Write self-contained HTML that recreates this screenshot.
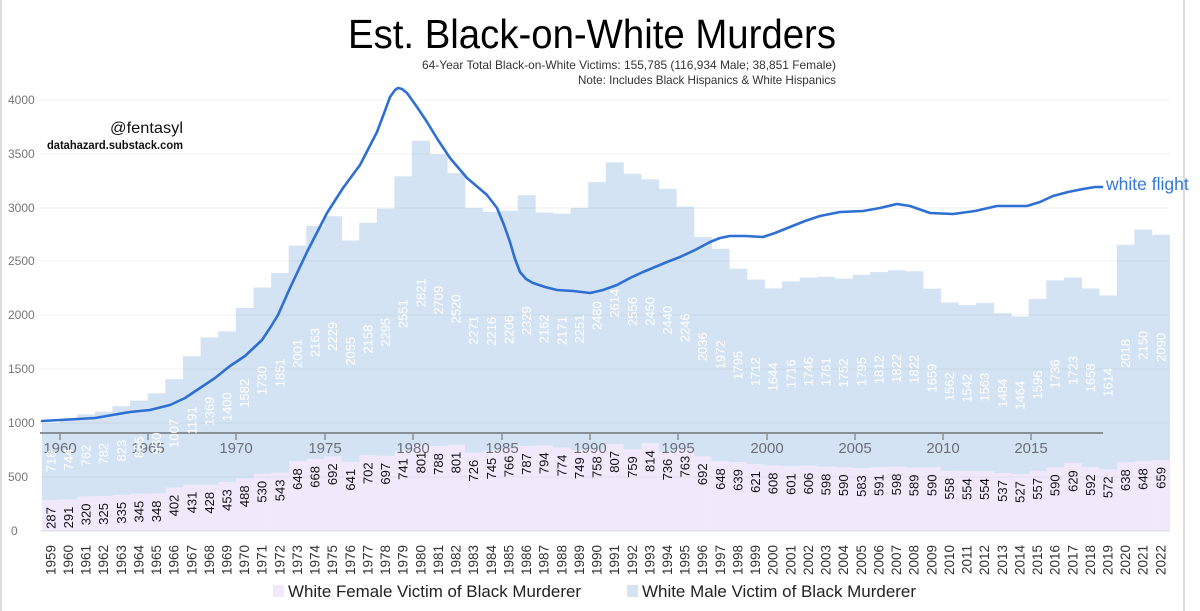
<!DOCTYPE html>
<html><head><meta charset="utf-8"><style>html,body{margin:0;padding:0;background:#fff}svg{display:block}</style></head>
<body>
<svg width="1200" height="611" viewBox="0 0 1200 611" xmlns="http://www.w3.org/2000/svg" font-family="Liberation Sans, sans-serif">
<rect width="1200" height="611" fill="#fff"/>
<line x1="1" y1="0" x2="1" y2="611" stroke="#ddd" stroke-width="2"/>
<line x1="1184" y1="0" x2="1184" y2="611" stroke="#ddd" stroke-width="2"/>
<g transform="translate(0,531) scale(1,-0.10775)">
<g fill="#f1e9fb">
<rect x="42" y="0" width="18" height="287"/><rect x="59.6" y="0" width="18" height="291"/><rect x="77.2" y="0" width="18" height="320"/><rect x="94.9" y="0" width="18" height="325"/><rect x="112.5" y="0" width="18" height="335"/><rect x="130.1" y="0" width="18" height="345"/><rect x="147.7" y="0" width="18" height="348"/><rect x="165.3" y="0" width="18" height="402"/><rect x="183.0" y="0" width="18" height="431"/><rect x="200.6" y="0" width="18" height="428"/>
<rect x="218.2" y="0" width="18" height="453"/><rect x="235.8" y="0" width="18" height="488"/><rect x="253.4" y="0" width="18" height="530"/><rect x="271.1" y="0" width="18" height="543"/><rect x="288.7" y="0" width="18" height="648"/><rect x="306.3" y="0" width="18" height="668"/><rect x="323.9" y="0" width="18" height="692"/><rect x="341.5" y="0" width="18" height="641"/><rect x="359.2" y="0" width="18" height="702"/><rect x="376.8" y="0" width="18" height="697"/>
<rect x="394.4" y="0" width="18" height="741"/><rect x="412.0" y="0" width="18" height="801"/><rect x="429.6" y="0" width="18" height="788"/><rect x="447.3" y="0" width="18" height="801"/><rect x="464.9" y="0" width="18" height="726"/><rect x="482.5" y="0" width="18" height="745"/><rect x="500.1" y="0" width="18" height="766"/><rect x="517.7" y="0" width="18" height="787"/><rect x="535.4" y="0" width="18" height="794"/><rect x="553.0" y="0" width="18" height="774"/>
<rect x="570.6" y="0" width="18" height="749"/><rect x="588.2" y="0" width="18" height="758"/><rect x="605.8" y="0" width="18" height="807"/><rect x="623.5" y="0" width="18" height="759"/><rect x="641.1" y="0" width="18" height="814"/><rect x="658.7" y="0" width="18" height="736"/><rect x="676.3" y="0" width="18" height="763"/><rect x="693.9" y="0" width="18" height="692"/><rect x="711.6" y="0" width="18" height="648"/><rect x="729.2" y="0" width="18" height="639"/>
<rect x="746.8" y="0" width="18" height="621"/><rect x="764.4" y="0" width="18" height="608"/><rect x="782.0" y="0" width="18" height="601"/><rect x="799.7" y="0" width="18" height="606"/><rect x="817.3" y="0" width="18" height="598"/><rect x="834.9" y="0" width="18" height="590"/><rect x="852.5" y="0" width="18" height="583"/><rect x="870.1" y="0" width="18" height="591"/><rect x="887.8" y="0" width="18" height="598"/><rect x="905.4" y="0" width="18" height="589"/>
<rect x="923.0" y="0" width="18" height="590"/><rect x="940.6" y="0" width="18" height="558"/><rect x="958.2" y="0" width="18" height="554"/><rect x="975.9" y="0" width="18" height="554"/><rect x="993.5" y="0" width="18" height="537"/><rect x="1011.1" y="0" width="18" height="527"/><rect x="1028.7" y="0" width="18" height="557"/><rect x="1046.3" y="0" width="18" height="590"/><rect x="1064.0" y="0" width="18" height="629"/><rect x="1081.6" y="0" width="18" height="592"/>
<rect x="1099.2" y="0" width="18" height="572"/><rect x="1116.8" y="0" width="18" height="638"/><rect x="1134.4" y="0" width="18" height="648"/><rect x="1152.1" y="0" width="17.9" height="659"/>
</g>
<g fill="#d4e3f3">
<rect x="42" y="287" width="18" height="718"/><rect x="59.6" y="291" width="18" height="744"/><rect x="77.2" y="320" width="18" height="762"/><rect x="94.9" y="325" width="18" height="782"/><rect x="112.5" y="335" width="18" height="823"/><rect x="130.1" y="345" width="18" height="865"/><rect x="147.7" y="348" width="18" height="930"/><rect x="165.3" y="402" width="18" height="1007"/><rect x="183.0" y="431" width="18" height="1191"/><rect x="200.6" y="428" width="18" height="1369"/>
<rect x="218.2" y="453" width="18" height="1400"/><rect x="235.8" y="488" width="18" height="1582"/><rect x="253.4" y="530" width="18" height="1730"/><rect x="271.1" y="543" width="18" height="1851"/><rect x="288.7" y="648" width="18" height="2001"/><rect x="306.3" y="668" width="18" height="2163"/><rect x="323.9" y="692" width="18" height="2229"/><rect x="341.5" y="641" width="18" height="2055"/><rect x="359.2" y="702" width="18" height="2158"/><rect x="376.8" y="697" width="18" height="2295"/>
<rect x="394.4" y="741" width="18" height="2551"/><rect x="412.0" y="801" width="18" height="2821"/><rect x="429.6" y="788" width="18" height="2709"/><rect x="447.3" y="801" width="18" height="2520"/><rect x="464.9" y="726" width="18" height="2271"/><rect x="482.5" y="745" width="18" height="2216"/><rect x="500.1" y="766" width="18" height="2206"/><rect x="517.7" y="787" width="18" height="2329"/><rect x="535.4" y="794" width="18" height="2162"/><rect x="553.0" y="774" width="18" height="2171"/>
<rect x="570.6" y="749" width="18" height="2251"/><rect x="588.2" y="758" width="18" height="2480"/><rect x="605.8" y="807" width="18" height="2614"/><rect x="623.5" y="759" width="18" height="2556"/><rect x="641.1" y="814" width="18" height="2450"/><rect x="658.7" y="736" width="18" height="2440"/><rect x="676.3" y="763" width="18" height="2246"/><rect x="693.9" y="692" width="18" height="2036"/><rect x="711.6" y="648" width="18" height="1972"/><rect x="729.2" y="639" width="18" height="1795"/>
<rect x="746.8" y="621" width="18" height="1712"/><rect x="764.4" y="608" width="18" height="1644"/><rect x="782.0" y="601" width="18" height="1716"/><rect x="799.7" y="606" width="18" height="1746"/><rect x="817.3" y="598" width="18" height="1761"/><rect x="834.9" y="590" width="18" height="1752"/><rect x="852.5" y="583" width="18" height="1795"/><rect x="870.1" y="591" width="18" height="1812"/><rect x="887.8" y="598" width="18" height="1822"/><rect x="905.4" y="589" width="18" height="1822"/>
<rect x="923.0" y="590" width="18" height="1659"/><rect x="940.6" y="558" width="18" height="1562"/><rect x="958.2" y="554" width="18" height="1542"/><rect x="975.9" y="554" width="18" height="1563"/><rect x="993.5" y="537" width="18" height="1484"/><rect x="1011.1" y="527" width="18" height="1464"/><rect x="1028.7" y="557" width="18" height="1596"/><rect x="1046.3" y="590" width="18" height="1736"/><rect x="1064.0" y="629" width="18" height="1723"/><rect x="1081.6" y="592" width="18" height="1658"/>
<rect x="1099.2" y="572" width="18" height="1614"/><rect x="1116.8" y="638" width="18" height="2018"/><rect x="1134.4" y="648" width="18" height="2150"/><rect x="1152.1" y="659" width="17.9" height="2090"/>
</g>
</g>
<g stroke="#000" stroke-opacity="0.05" stroke-width="1">
<line x1="40" x2="1170" y1="477" y2="477"/><line x1="40" x2="1170" y1="423" y2="423"/><line x1="40" x2="1170" y1="369" y2="369"/><line x1="40" x2="1170" y1="315" y2="315"/><line x1="40" x2="1170" y1="261" y2="261"/><line x1="40" x2="1170" y1="208" y2="208"/><line x1="40" x2="1170" y1="154" y2="154"/><line x1="40" x2="1170" y1="100" y2="100"/>
</g>
<line x1="40" x2="1170" y1="531" y2="531" stroke="#ddd"/>
<g font-size="12" fill="#777">
<text x="11" y="535">0</text><text x="8" y="481">500</text><text x="8" y="427">1000</text><text x="8" y="373">1500</text><text x="8" y="319">2000</text><text x="8" y="265">2500</text><text x="8" y="212">3000</text><text x="8" y="158">3500</text><text x="8" y="104">4000</text>
</g>
<line x1="40" x2="1103" y1="433" y2="433" stroke="#8a8f96" stroke-width="2"/>
<g stroke="#8a8f96" stroke-width="1.5">
<line x1="60" x2="60" y1="433" y2="440"/><line x1="148" x2="148" y1="433" y2="440"/><line x1="236" x2="236" y1="433" y2="440"/><line x1="325" x2="325" y1="433" y2="440"/><line x1="413" x2="413" y1="433" y2="440"/><line x1="502" x2="502" y1="433" y2="440"/><line x1="590" x2="590" y1="433" y2="440"/><line x1="678" x2="678" y1="433" y2="440"/><line x1="767" x2="767" y1="433" y2="440"/><line x1="855" x2="855" y1="433" y2="440"/><line x1="943" x2="943" y1="433" y2="440"/><line x1="1031" x2="1031" y1="433" y2="440"/>
</g>
<g font-size="15" fill="#6b7078" text-anchor="middle">
<text x="60" y="453">1960</text><text x="148" y="453">1965</text><text x="236" y="453">1970</text><text x="325" y="453">1975</text><text x="413" y="453">1980</text><text x="502" y="453">1985</text><text x="590" y="453">1990</text><text x="678" y="453">1995</text><text x="767" y="453">2000</text><text x="855" y="453">2005</text><text x="943" y="453">2010</text><text x="1031" y="453">2015</text>
</g>
<polyline fill="none" stroke="#2e6fd3" stroke-width="2.6" stroke-linejoin="round" stroke-linecap="round" points="42,421 60,420 95,418 130,412 150,410 170,405 185,398 200,388 215,378 230,366 245,356 262,340 270,328 278,315 290,288 307,252 327,213 343,188 360,165 377,132 386,108 390,97 395,90 398,88 402,89 407,93 417,107 427,122 438,140 450,158 467,178 480,189 487,195 497,208 504,225 510,242 515,259 520,272 526,279 533,283 545,287 557,290 573,291 590,293 603,290 617,285 630,278 643,272 667,262 680,257 695,250 710,242 720,238 730,236 745,236 763,237 775,233 790,227 805,221 820,216 840,212 863,211 880,208 897,204 910,206 930,213 953,214 975,211 997,206 1027,206 1040,202 1053,196 1068,192 1083,189 1095,187 1102,187"/>
<text x="1106" y="190" font-size="17.5" fill="#3478d6">white flight</text>
<g transform="translate(0,531) rotate(-90)" font-size="13">
<g fill="#111" text-anchor="end">
<text x="23.9" y="55.3">287</text><text x="24.4" y="72.9">291</text><text x="27.5" y="90.5">320</text><text x="28.0" y="108.2">325</text><text x="29.1" y="125.8">335</text><text x="30.2" y="143.4">345</text><text x="30.5" y="161.0">348</text><text x="36.3" y="178.6">402</text><text x="39.4" y="196.3">431</text><text x="39.1" y="213.9">428</text>
<text x="41.8" y="231.5">453</text><text x="45.6" y="249.1">488</text><text x="50.1" y="266.7">530</text><text x="51.5" y="284.4">543</text><text x="62.8" y="302.0">648</text><text x="65.0" y="319.6">668</text><text x="67.6" y="337.2">692</text><text x="62.1" y="354.8">641</text><text x="68.6" y="372.5">702</text><text x="68.1" y="390.1">697</text>
<text x="72.8" y="407.7">741</text><text x="79.3" y="425.3">801</text><text x="77.9" y="442.9">788</text><text x="79.3" y="460.6">801</text><text x="71.2" y="478.2">726</text><text x="73.3" y="495.8">745</text><text x="75.5" y="513.4">766</text><text x="77.8" y="531.0">787</text><text x="78.6" y="548.7">794</text><text x="76.4" y="566.3">774</text>
<text x="73.7" y="583.9">749</text><text x="74.7" y="601.5">758</text><text x="80.0" y="619.1">807</text><text x="74.8" y="636.8">759</text><text x="80.7" y="654.4">814</text><text x="72.3" y="672.0">736</text><text x="75.2" y="689.6">763</text><text x="67.6" y="707.2">692</text><text x="62.8" y="724.9">648</text><text x="61.9" y="742.5">639</text>
<text x="59.9" y="760.1">621</text><text x="58.5" y="777.7">608</text><text x="57.8" y="795.3">601</text><text x="58.3" y="813.0">606</text><text x="57.4" y="830.6">598</text><text x="56.6" y="848.2">590</text><text x="55.8" y="865.8">583</text><text x="56.7" y="883.4">591</text><text x="57.4" y="901.1">598</text><text x="56.5" y="918.7">589</text>
<text x="56.6" y="936.3">590</text><text x="53.1" y="953.9">558</text><text x="52.7" y="971.5">554</text><text x="52.7" y="989.2">554</text><text x="50.9" y="1006.8">537</text><text x="49.8" y="1024.4">527</text><text x="53.0" y="1042.0">557</text><text x="56.6" y="1059.6">590</text><text x="60.8" y="1077.3">629</text><text x="56.8" y="1094.9">592</text>
<text x="54.6" y="1112.5">572</text><text x="61.7" y="1130.1">638</text><text x="62.8" y="1147.7">648</text><text x="64.0" y="1165.4">659</text>
</g>
<g fill="#fff" text-anchor="middle">
<text x="69.6" y="55.3">718</text><text x="71.5" y="72.9">744</text><text x="75.5" y="90.5">762</text><text x="77.2" y="108.2">782</text><text x="80.4" y="125.8">823</text><text x="83.8" y="143.4">865</text><text x="87.6" y="161.0">930</text><text x="97.6" y="178.6">1007</text><text x="110.6" y="196.3">1191</text><text x="119.9" y="213.9">1369</text>
<text x="124.2" y="231.5">1400</text><text x="137.8" y="249.1">1582</text><text x="150.3" y="266.7">1730</text><text x="158.2" y="284.4">1851</text><text x="177.6" y="302.0">2001</text><text x="188.5" y="319.6">2163</text><text x="194.7" y="337.2">2229</text><text x="179.8" y="354.8">2055</text><text x="191.9" y="372.5">2158</text><text x="198.7" y="390.1">2295</text>
<text x="217.3" y="407.7">2551</text><text x="238.3" y="425.3">2821</text><text x="230.8" y="442.9">2709</text><text x="222.1" y="460.6">2520</text><text x="200.6" y="478.2">2271</text><text x="199.7" y="495.8">2216</text><text x="201.4" y="513.4">2206</text><text x="210.3" y="531.0">2329</text><text x="202.1" y="548.7">2162</text><text x="200.4" y="566.3">2171</text>
<text x="202.0" y="583.9">2251</text><text x="215.3" y="601.5">2480</text><text x="227.8" y="619.1">2614</text><text x="219.5" y="636.8">2556</text><text x="219.7" y="654.4">2450</text><text x="210.8" y="672.0">2440</text><text x="203.2" y="689.6">2246</text><text x="184.3" y="707.2">2036</text><text x="176.1" y="724.9">1972</text><text x="165.6" y="742.5">1795</text>
<text x="159.2" y="760.1">1712</text><text x="154.1" y="777.7">1644</text><text x="157.3" y="795.3">1716</text><text x="159.4" y="813.0">1746</text><text x="159.3" y="830.6">1761</text><text x="158.0" y="848.2">1752</text><text x="159.5" y="865.8">1795</text><text x="161.3" y="883.4">1812</text><text x="162.6" y="901.1">1822</text><text x="161.7" y="918.7">1822</text>
<text x="153.0" y="936.3">1659</text><text x="144.3" y="953.9">1562</text><text x="142.8" y="971.5">1542</text><text x="143.9" y="989.2">1563</text><text x="137.9" y="1006.8">1484</text><text x="135.7" y="1024.4">1464</text><text x="146.0" y="1042.0">1596</text><text x="157.1" y="1059.6">1736</text><text x="160.6" y="1077.3">1723</text><text x="153.1" y="1094.9">1658</text>
<text x="148.6" y="1112.5">1614</text><text x="177.5" y="1130.1">2018</text><text x="185.7" y="1147.7">2150</text><text x="183.6" y="1165.4">2090</text>
</g>
<g fill="#333" text-anchor="end" font-size="13.5">
<text x="-14" y="55.3">1959</text><text x="-14" y="72.9">1960</text><text x="-14" y="90.5">1961</text><text x="-14" y="108.2">1962</text><text x="-14" y="125.8">1963</text><text x="-14" y="143.4">1964</text><text x="-14" y="161.0">1965</text><text x="-14" y="178.6">1966</text><text x="-14" y="196.3">1967</text><text x="-14" y="213.9">1968</text>
<text x="-14" y="231.5">1969</text><text x="-14" y="249.1">1970</text><text x="-14" y="266.7">1971</text><text x="-14" y="284.4">1972</text><text x="-14" y="302.0">1973</text><text x="-14" y="319.6">1974</text><text x="-14" y="337.2">1975</text><text x="-14" y="354.8">1976</text><text x="-14" y="372.5">1977</text><text x="-14" y="390.1">1978</text>
<text x="-14" y="407.7">1979</text><text x="-14" y="425.3">1980</text><text x="-14" y="442.9">1981</text><text x="-14" y="460.6">1982</text><text x="-14" y="478.2">1983</text><text x="-14" y="495.8">1984</text><text x="-14" y="513.4">1985</text><text x="-14" y="531.0">1986</text><text x="-14" y="548.7">1987</text><text x="-14" y="566.3">1988</text>
<text x="-14" y="583.9">1989</text><text x="-14" y="601.5">1990</text><text x="-14" y="619.1">1991</text><text x="-14" y="636.8">1992</text><text x="-14" y="654.4">1993</text><text x="-14" y="672.0">1994</text><text x="-14" y="689.6">1995</text><text x="-14" y="707.2">1996</text><text x="-14" y="724.9">1997</text><text x="-14" y="742.5">1998</text>
<text x="-14" y="760.1">1999</text><text x="-14" y="777.7">2000</text><text x="-14" y="795.3">2001</text><text x="-14" y="813.0">2002</text><text x="-14" y="830.6">2003</text><text x="-14" y="848.2">2004</text><text x="-14" y="865.8">2005</text><text x="-14" y="883.4">2006</text><text x="-14" y="901.1">2007</text><text x="-14" y="918.7">2008</text>
<text x="-14" y="936.3">2009</text><text x="-14" y="953.9">2010</text><text x="-14" y="971.5">2011</text><text x="-14" y="989.2">2012</text><text x="-14" y="1006.8">2013</text><text x="-14" y="1024.4">2014</text><text x="-14" y="1042.0">2015</text><text x="-14" y="1059.6">2016</text><text x="-14" y="1077.3">2017</text><text x="-14" y="1094.9">2018</text>
<text x="-14" y="1112.5">2019</text><text x="-14" y="1130.1">2020</text><text x="-14" y="1147.7">2021</text><text x="-14" y="1165.4">2022</text>
</g>
</g>
<text x="836" y="48" font-size="41" fill="#000" text-anchor="end" textLength="488" lengthAdjust="spacingAndGlyphs">Est. Black-on-White Murders</text>
<text x="836" y="69" font-size="12" fill="#333" text-anchor="end" textLength="414" lengthAdjust="spacingAndGlyphs">64-Year Total Black-on-White Victims: 155,785 (116,934 Male; 38,851 Female)</text>
<text x="836" y="84" font-size="12" fill="#333" text-anchor="end" textLength="258" lengthAdjust="spacingAndGlyphs">Note: Includes Black Hispanics &amp; White Hispanics</text>
<text x="183" y="133" font-size="16" fill="#111" text-anchor="end" textLength="73" lengthAdjust="spacingAndGlyphs">@fentasyl</text>
<text x="183" y="149" font-size="12" font-weight="bold" fill="#111" text-anchor="end" textLength="136" lengthAdjust="spacingAndGlyphs">datahazard.substack.com</text>
<rect x="273" y="585" width="11" height="12" fill="#f1e9fb"/>
<text x="288" y="597" font-size="17" fill="#222" textLength="293" lengthAdjust="spacingAndGlyphs">White Female Victim of Black Murderer</text>
<rect x="627" y="585" width="11" height="12" fill="#d4e3f3"/>
<text x="642" y="597" font-size="17" fill="#222" textLength="274" lengthAdjust="spacingAndGlyphs">White Male Victim of Black Murderer</text>
</svg>
</body></html>
